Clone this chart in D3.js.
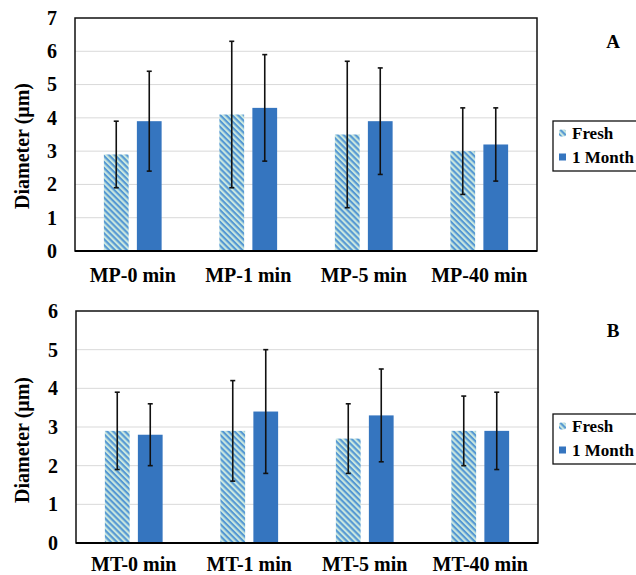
<!DOCTYPE html>
<html>
<head>
<meta charset="utf-8">
<script src="https://cdn.jsdelivr.net/npm/d3@7"></script>
<style>
  html, body { margin: 0; padding: 0; background: #fff; }
  svg { display: block; }
  text { font-family: "Liberation Serif", "Times New Roman", serif; font-weight: bold; fill: #000; }
</style>
</head>
<body>
<svg id="chart" width="636" height="575"></svg>
<script>
// Series names
const seriesNames = ["Fresh", "1 Month"];

// Panel A – MP samples
const categoriesA = ["MP-0 min", "MP-1 min", "MP-5 min", "MP-40 min"];
const freshA      = [2.9, 4.1, 3.5, 3.0];
const freshLowA   = [1.9, 1.9, 1.3, 1.7];
const freshHighA  = [3.9, 6.3, 5.7, 4.3];
const monthA      = [3.9, 4.3, 3.9, 3.2];
const monthLowA   = [2.4, 2.7, 2.3, 2.1];
const monthHighA  = [5.4, 5.9, 5.5, 4.3];
const ticksA      = [0, 1, 2, 3, 4, 5, 6, 7];

// Panel B – MT samples
const categoriesB = ["MT-0 min", "MT-1 min", "MT-5 min", "MT-40 min"];
const freshB      = [2.9, 2.9, 2.7, 2.9];
const freshLowB   = [1.9, 1.6, 1.8, 2.0];
const freshHighB  = [3.9, 4.2, 3.6, 3.8];
const monthB      = [2.8, 3.4, 3.3, 2.9];
const monthLowB   = [2.0, 1.8, 2.1, 1.9];
const monthHighB  = [3.6, 5.0, 4.5, 3.9];
const ticksB      = [0, 1, 2, 3, 4, 5, 6];

const svg = d3.select("#chart");

// Diagonal hatch used for the "Fresh" bars
const defs = svg.append("defs");
const pat = defs.append("pattern")
  .attr("id", "hatch")
  .attr("patternUnits", "userSpaceOnUse")
  .attr("width", 4.2).attr("height", 4.2)
  .attr("patternTransform", "rotate(45)");
pat.append("rect").attr("width", 4.2).attr("height", 4.2).attr("fill", "#c9e7df");
pat.append("rect").attr("width", 4.2).attr("height", 2.1).attr("fill", "#5598d3");

const fills = { "Fresh": "url(#hatch)", "1 Month": "#3575bf" };

function drawPanel(cfg) {
  const { categories, fresh, freshLow, freshHigh, month, monthLow, monthHigh,
          ticks, left, right, top, bottom, letter, letterY, legendTop, titleY } = cfg;
  const g = svg.append("g");

  const y = d3.scaleLinear().domain([0, d3.max(ticks)]).range([bottom, top]);
  const x0 = d3.scaleBand().domain(categories).range([left, right])
    .paddingInner(0.5).paddingOuter(0.25);
  const x1 = d3.scaleBand().domain(seriesNames).range([0, x0.bandwidth()])
    .paddingInner(0.25);

  // gridlines
  g.append("g").selectAll("line")
    .data(ticks.filter(t => t > 0 && t < d3.max(ticks)))
    .join("line")
    .attr("x1", left).attr("x2", right)
    .attr("y1", d => y(d)).attr("y2", d => y(d))
    .attr("stroke", "#d9d9d9").attr("stroke-width", 1);

  const rows = categories.map((c, i) => ({
    cat: c,
    vals: [
      { s: "Fresh", v: fresh[i], lo: freshLow[i], hi: freshHigh[i] },
      { s: "1 Month", v: month[i], lo: monthLow[i], hi: monthHigh[i] }
    ]
  }));

  const groups = g.append("g").selectAll("g")
    .data(rows).join("g")
    .attr("transform", d => `translate(${x0(d.cat)},0)`);

  groups.selectAll("rect")
    .data(d => d.vals).join("rect")
    .attr("x", d => x1(d.s))
    .attr("y", d => y(d.v))
    .attr("width", x1.bandwidth())
    .attr("height", d => y(0) - y(d.v))
    .attr("fill", d => fills[d.s]);

  // error bars
  const eb = groups.selectAll("g.err")
    .data(d => d.vals).join("g").attr("class", "err");
  const cx = d => x1(d.s) + x1.bandwidth() / 2;
  eb.append("line")
    .attr("x1", cx).attr("x2", cx)
    .attr("y1", d => y(d.lo)).attr("y2", d => y(d.hi))
    .attr("stroke", "#111").attr("stroke-width", 1.6);
  ["lo", "hi"].forEach(k => {
    eb.append("line")
      .attr("x1", d => cx(d) - 2.5).attr("x2", d => cx(d) + 2.5)
      .attr("y1", d => y(d[k])).attr("y2", d => y(d[k]))
      .attr("stroke", "#111").attr("stroke-width", 1.6);
  });

  // frame
  g.append("rect")
    .attr("x", left).attr("y", top)
    .attr("width", right - left).attr("height", bottom - top)
    .attr("fill", "none").attr("stroke", "#111").attr("stroke-width", 1.5);
  g.append("line")
    .attr("x1", left).attr("x2", right)
    .attr("y1", y(0)).attr("y2", y(0))
    .attr("stroke", "#000").attr("stroke-width", 2.2);

  // y axis labels
  const yAxis = d3.axisLeft(y).tickValues(ticks).tickSize(0).tickPadding(18).tickFormat(d3.format("d"));
  const ya = g.append("g").attr("transform", `translate(${left},0)`).call(yAxis);
  ya.select(".domain").remove();
  ya.selectAll("text")
    .style("font-family", '"Liberation Serif", "Times New Roman", serif')
    .style("font-weight", "bold").style("font-size", "20px").attr("fill", "#000");

  // x axis labels
  const xAxis = d3.axisBottom(x0).tickSize(0).tickPadding(0);
  const xa = g.append("g").attr("transform", `translate(0,${bottom})`).call(xAxis);
  xa.select(".domain").remove();
  xa.selectAll("text")
    .attr("dy", null).attr("y", cfg.catBaseline - bottom)
    .style("font-family", '"Liberation Serif", "Times New Roman", serif')
    .style("font-weight", "bold").style("font-size", "20px").attr("fill", "#000");

  // axis title
  g.append("text")
    .attr("transform", `translate(29,${titleY}) rotate(-90)`)
    .attr("text-anchor", "middle")
    .style("font-size", "20px")
    .text("Diameter (μm)");

  // panel letter
  g.append("text")
    .attr("x", 613).attr("y", letterY)
    .attr("text-anchor", "middle")
    .style("font-size", "19px")
    .text(letter);

  // legend
  const lg = g.append("g").attr("transform", `translate(553,${legendTop})`);
  lg.append("rect").attr("x", 0).attr("y", 0).attr("width", 100).attr("height", 50)
    .attr("fill", "#fff").attr("stroke", "#111").attr("stroke-width", 1.3);
  seriesNames.forEach((s, i) => {
    const cy = 12 + i * 24;
    lg.append("rect").attr("x", 6).attr("y", cy - 3.5).attr("width", 7).attr("height", 7)
      .attr("rx", s === "Fresh" ? 2 : 0)
      .attr("fill", fills[s]);
    lg.append("text").attr("x", 19).attr("y", cy + 5.5)
      .style("font-size", "17px").text(s);
  });
}

drawPanel({
  categories: categoriesA, fresh: freshA, freshLow: freshLowA, freshHigh: freshHighA,
  month: monthA, monthLow: monthLowA, monthHigh: monthHighA, ticks: ticksA,
  left: 75, right: 537, top: 18, bottom: 251, catBaseline: 282,
  letter: "A", letterY: 48, legendTop: 121, titleY: 146
});

drawPanel({
  categories: categoriesB, fresh: freshB, freshLow: freshLowB, freshHigh: freshHighB,
  month: monthB, monthLow: monthLowB, monthHigh: monthHighB, ticks: ticksB,
  left: 76, right: 538, top: 311, bottom: 543, catBaseline: 571,
  letter: "B", letterY: 337, legendTop: 414, titleY: 440
});
</script>
</body>
</html>
